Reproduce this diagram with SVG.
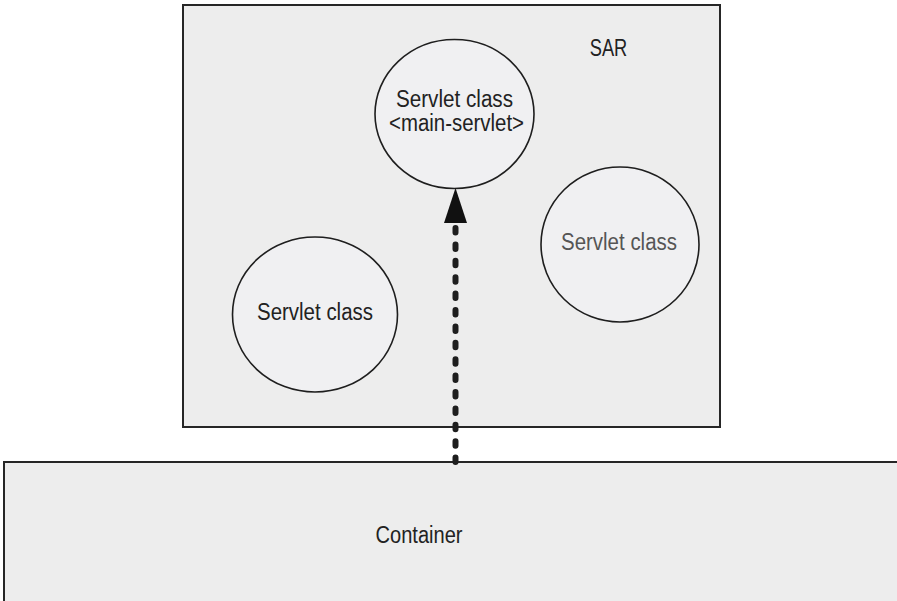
<svg xmlns="http://www.w3.org/2000/svg" width="897" height="601" viewBox="0 0 897 601">
  <style>
    .box { fill: #ededed; stroke: #262626; stroke-width: 2; }
    .servlet { fill: #f0f0f2; stroke: #1e1e1e; stroke-width: 1.6; }
    .label { font-family: "Liberation Sans", Arial, sans-serif; font-size: 23px; fill: #222; text-anchor: middle; }
    .muted { fill: #555; }
    .flow { stroke: #1e1e1e; stroke-width: 6; stroke-linecap: round; stroke-dasharray: 4.5 11.9; fill: none; }
  </style>

  <!-- runtime container along the bottom -->
  <g id="container">
    <rect class="box" x="4" y="462" width="900" height="150"/>
    <text class="label" x="419" y="543" textLength="87" lengthAdjust="spacingAndGlyphs">Container</text>
  </g>

  <!-- servlet archive -->
  <g id="sar">
    <rect class="box" x="183" y="5" width="537" height="422"/>
    <text class="label" x="608.5" y="56" font-size="21" textLength="37.5" lengthAdjust="spacingAndGlyphs">SAR</text>
  </g>

  <g id="main-servlet">
    <ellipse class="servlet" cx="454.5" cy="114" rx="79.5" ry="74.5"/>
    <text class="label" x="454.5" y="106.5" font-size="21" textLength="117" lengthAdjust="spacingAndGlyphs">Servlet class</text>
    <text class="label" x="456.5" y="130.5" font-size="20" textLength="135" lengthAdjust="spacingAndGlyphs">&lt;main-servlet&gt;</text>
  </g>

  <g id="servlet-right">
    <ellipse class="servlet" cx="620" cy="244.5" rx="79" ry="77.5"/>
    <text class="label muted" x="619" y="250" textLength="116" lengthAdjust="spacingAndGlyphs">Servlet class</text>
  </g>

  <g id="servlet-left">
    <ellipse class="servlet" cx="315" cy="314.5" rx="82.5" ry="77.5"/>
    <text class="label" x="315" y="320" textLength="116" lengthAdjust="spacingAndGlyphs">Servlet class</text>
  </g>

  <!-- container dispatches to the main servlet -->
  <g id="connectors">
    <line class="flow" x1="455.5" y1="228" x2="455.5" y2="462"/>
    <polygon points="455.5,188 467,223 444,223" fill="#111"/>
  </g>
</svg>
